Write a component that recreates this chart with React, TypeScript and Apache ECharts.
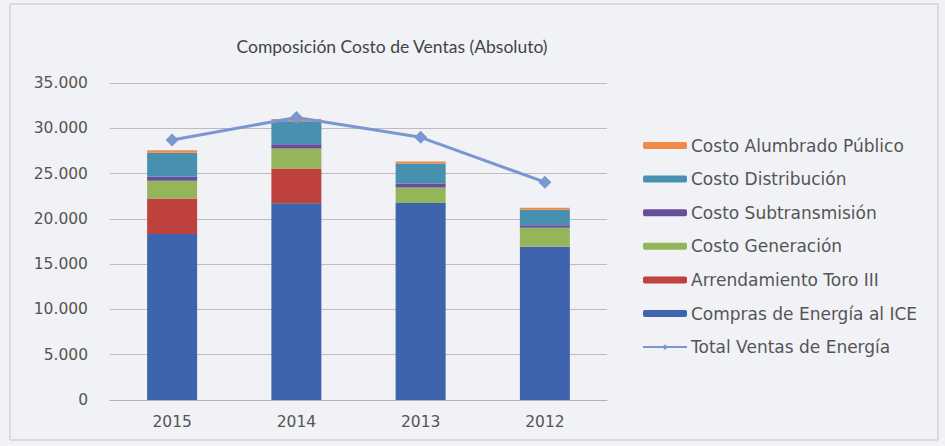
import React, { useEffect, useRef } from "react";
import * as echarts from "echarts";

const categories = ["2015", "2014", "2013", "2012"];
const compras = [18330, 21720, 21750, 16910];
const arrendamiento = [3930, 3850, 0, 0];
const generacion = [1940, 2200, 1720, 2120];
const subtransmision = [440, 480, 440, 270];
const distribucion = [2660, 2520, 2190, 1700];
const alumbrado = [270, 260, 230, 230];
const totalVentas = [28700, 31200, 29000, 24050];
const yTicks = [0, 5000, 10000, 15000, 20000, 25000, 30000, 35000];

const FONT = "Lato, 'Open Sans', sans-serif";
const WIDE = "'DejaVu Sans', Verdana, sans-serif";

export default function App() {
  const ref = useRef<HTMLDivElement>(null);
  useEffect(() => {
    const chart = echarts.init(ref.current!, null, { renderer: "svg" });
    const bar = (name: string, data: number[], color: string) => ({
      name,
      type: "bar",
      stack: "total",
      data,
      barWidth: 50,
      itemStyle: { color },
    });
    const fmt = (v: number) =>
      v === 0 ? "0" : String(v).replace(/\B(?=(\d{3})+(?!\d))/g, ".");
    chart.setOption({
      animation: false,
      backgroundColor: "#f1f2f5",
      title: {
        text: "Composición Costo de Ventas (Absoluto)",
        left: 387,
        top: 32,
        textAlign: "center",
        textStyle: { fontFamily: FONT, fontSize: 17.5, fontWeight: "normal", color: "#444" },
      },
      graphic: [
        {
          type: "rect",
          shape: { x: 10, y: 4, width: 928, height: 436 },
          style: { fill: "none", stroke: "#c9c2c6", lineWidth: 1 },
        },
      ],
      grid: { left: 110, right: 338, top: 83, bottom: 46 },
      legend: {
        orient: "vertical",
        left: 637,
        top: 132,
        itemWidth: 44,
        itemHeight: 7,
        itemGap: 16.6,
        textStyle: { fontFamily: WIDE, fontSize: 17, color: "#555", padding: [0, 0, 0, -1] },
        data: [
          "Costo Alumbrado Público",
          "Costo Distribución",
          "Costo Subtransmisión",
          "Costo Generación",
          "Arrendamiento Toro III",
          "Compras de Energía al ICE",
          "Total Ventas de Energía",
        ],
      },
      xAxis: {
        type: "category",
        data: categories,
        axisLine: { lineStyle: { color: "#b9aeb3" } },
        axisTick: { show: false },
        axisLabel: { fontFamily: WIDE, fontSize: 15.5, color: "#555", margin: 14 },
      },
      yAxis: {
        type: "value",
        min: 0,
        max: 35000,
        interval: 5000,
        axisLine: { show: false },
        axisTick: { show: false },
        splitLine: { lineStyle: { color: "#c4b9be" } },
        axisLabel: {
          fontFamily: WIDE,
          fontSize: 15.5,
          color: "#555",
          margin: 22,
          formatter: (v: number) => (yTicks.includes(v) ? fmt(v) : ""),
        },
      },
      series: [
        bar("Compras de Energía al ICE", compras, "#3d64ad"),
        bar("Arrendamiento Toro III", arrendamiento, "#c0423c"),
        bar("Costo Generación", generacion, "#95b55a"),
        bar("Costo Subtransmisión", subtransmision, "#6a4d9a"),
        bar("Costo Distribución", distribucion, "#4790b0"),
        bar("Costo Alumbrado Público", alumbrado, "#f08a45"),
        {
          name: "Total Ventas de Energía",
          type: "line",
          data: totalVentas,
          symbol: "diamond",
          symbolSize: 13,
          lineStyle: { color: "#7b97d2", width: 3 },
          itemStyle: { color: "#7b97d2" },
        },
      ],
    });
    return () => chart.dispose();
  }, []);
  return <div ref={ref} style={{ width: 945, height: 446, position: "absolute", left: 0, top: 0 }} />;
}
